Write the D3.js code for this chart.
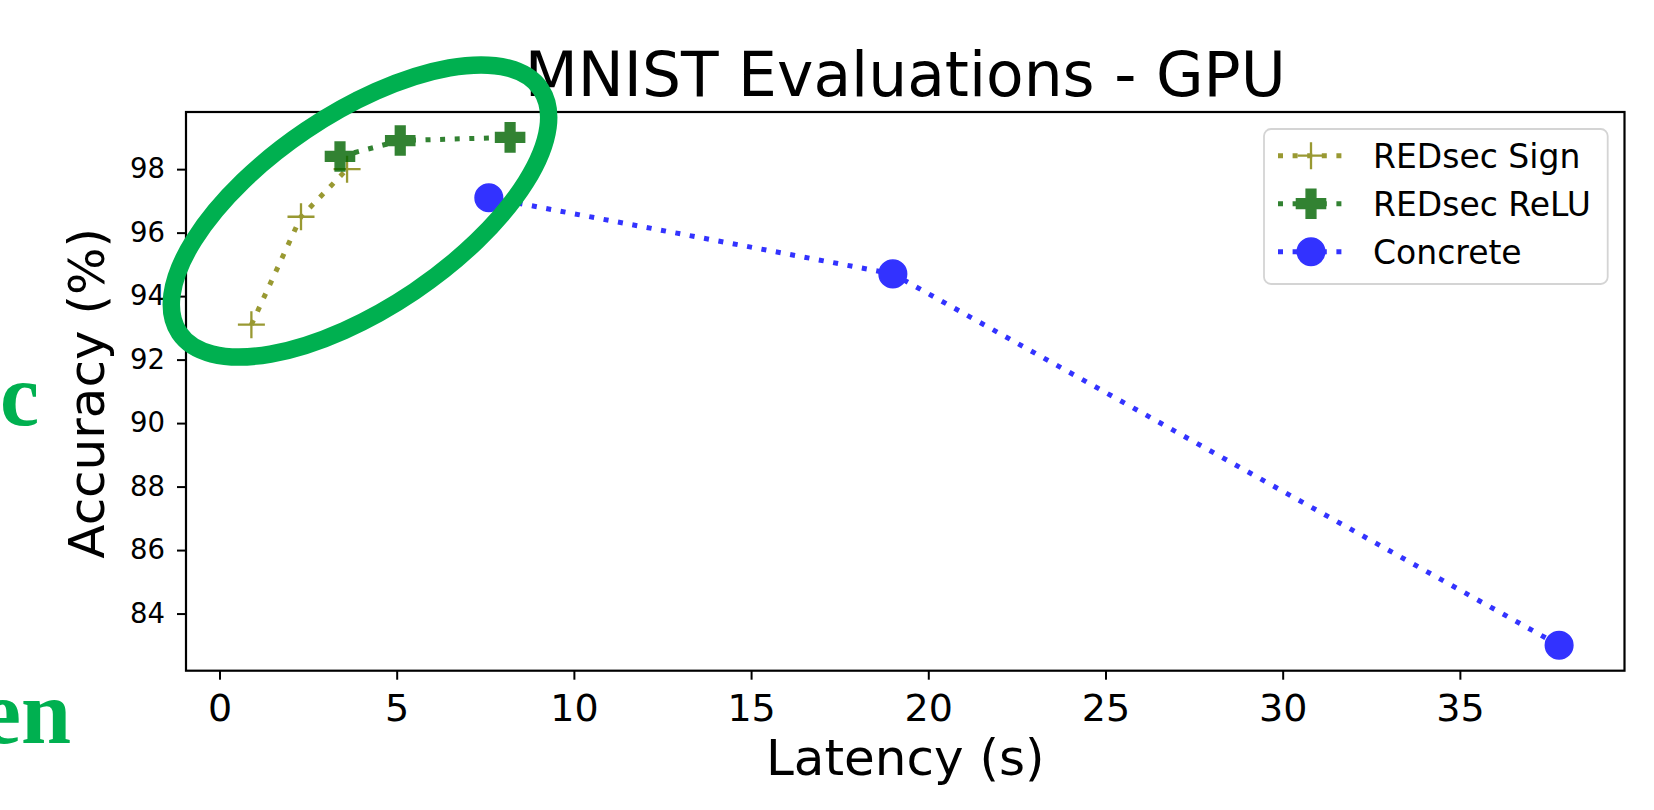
<!DOCTYPE html>
<html>
<head>
<meta charset="utf-8">
<script src="https://cdn.jsdelivr.net/npm/d3@7"></script>
<style>
  body { margin: 0; background: #ffffff; }
  svg { display: block; }
</style>
</head>
<body>
<script>
// Chart data
// =================================
var signLatency = [0.9, 2.3, 3.6];
var signAccuracy = [93.1, 96.5, 98.0];

var reluLatency = [3.4, 5.1, 8.2];
var reluAccuracy = [98.4, 98.9, 99.0];

var concreteLatency = [7.6, 19.0, 37.8];
var concreteAccuracy = [97.1, 94.7, 83.0];

var seriesNames = ["REDsec Sign", "REDsec ReLU", "Concrete"];
var xTicks = [0, 5, 10, 15, 20, 25, 30, 35];
var yTicks = [84, 86, 88, 90, 92, 94, 96, 98];

// Set up chart
// =================================
var svgWidth = 1654;
var svgHeight = 810;

var margin = {
    top: 112,
    right: 29.5,
    bottom: 139.3,
    left: 186
};

var chartWidth = svgWidth - margin.left - margin.right;
var chartHeight = svgHeight - margin.top - margin.bottom;
var font = "DejaVu Sans";

var svg = d3
    .select("body")
    .append("svg")
    .attr("width", svgWidth)
    .attr("height", svgHeight);

svg.append("rect")
    .attr("width", svgWidth)
    .attr("height", svgHeight)
    .attr("fill", "#ffffff");

var chartGroup = svg.append("g")
    .attr("transform", `translate(${margin.left}, ${margin.top})`);

// Scales, matplotlib style 5% padding
// =================================
var allX = signLatency.concat(reluLatency, concreteLatency);
var allY = signAccuracy.concat(reluAccuracy, concreteAccuracy);
var xPad = (d3.max(allX) - d3.min(allX)) * 0.05;
var yPad = (d3.max(allY) - d3.min(allY)) * 0.05;

var xLinearScale = d3.scaleLinear()
    .domain([d3.min(allX) - xPad, d3.max(allX) + xPad])
    .range([0, chartWidth]);

var yLinearScale = d3.scaleLinear()
    .domain([d3.min(allY) - yPad, d3.max(allY) + yPad])
    .range([chartHeight, 0]);

// Axes
// =================================
var bottomAxis = d3.axisBottom(xLinearScale)
    .tickValues(xTicks)
    .tickSize(9)
    .tickPadding(14);

var leftAxis = d3.axisLeft(yLinearScale)
    .tickValues(yTicks)
    .tickSize(9)
    .tickPadding(12);

var xAxis = chartGroup.append("g")
    .attr("transform", `translate(0, ${chartHeight})`)
    .call(bottomAxis);

xAxis.attr("font-family", font).attr("font-size", 38);

var yAxis = chartGroup.append("g")
    .call(leftAxis);

yAxis.attr("font-family", font).attr("font-size", 27.5);

[xAxis, yAxis].forEach(function (ax) {
    ax.select(".domain").remove();
    ax.selectAll(".tick line")
        .attr("stroke", "#000")
        .attr("stroke-width", 2);
    ax.selectAll(".tick text").attr("fill", "#000");
});

// Series styles
// =================================
var series = [
    { name: seriesNames[0], xs: signLatency, ys: signAccuracy, color: "olive", marker: "plus" },
    { name: seriesNames[1], xs: reluLatency, ys: reluAccuracy, color: "darkgreen", marker: "pfill" },
    { name: seriesNames[2], xs: concreteLatency, ys: concreteAccuracy, color: "blue", marker: "circle" }
];

var line = d3.line()
    .x(d => xLinearScale(d[0]))
    .y(d => yLinearScale(d[1]));

function drawMarker(g, s) {
    if (s.marker === "plus") {
        g.append("path")
            .attr("d", "M-13.5,0H13.5M0,-13.5V13.5")
            .attr("stroke", s.color)
            .attr("stroke-width", 2.3)
            .attr("fill", "none");
    } else if (s.marker === "pfill") {
        g.append("path")
            .attr("d", d3.symbol(d3.symbolCross, 470)())
            .attr("fill", s.color)
            .attr("stroke", s.color)
            .attr("stroke-width", 1.5);
    } else {
        g.append("circle")
            .attr("r", 13.8)
            .attr("fill", s.color)
            .attr("stroke", s.color)
            .attr("stroke-width", 1.5);
    }
}

series.forEach(function (s) {
    var pts = d3.zip(s.xs, s.ys);
    var sg = chartGroup.append("g").attr("opacity", 0.8);

    sg.append("path")
        .attr("d", line(pts))
        .attr("fill", "none")
        .attr("stroke", s.color)
        .attr("stroke-width", 5)
        .attr("stroke-dasharray", "5 9.6");

    pts.forEach(function (p) {
        var mg = sg.append("g")
            .attr("transform", `translate(${xLinearScale(p[0])}, ${yLinearScale(p[1])})`);
        drawMarker(mg, s);
    });
});

// Frame
// =================================
chartGroup.append("rect")
    .attr("width", chartWidth)
    .attr("height", chartHeight)
    .attr("fill", "none")
    .attr("stroke", "#000")
    .attr("stroke-width", 2.2);

// Title and axis labels
// =================================
svg.append("text")
    .attr("x", margin.left + chartWidth / 2)
    .attr("y", 96)
    .attr("text-anchor", "middle")
    .attr("font-family", font)
    .attr("font-size", 61.5)
    .text("MNIST Evaluations - GPU");

svg.append("text")
    .attr("x", margin.left + chartWidth / 2)
    .attr("y", 775)
    .attr("text-anchor", "middle")
    .attr("font-family", font)
    .attr("font-size", 50)
    .text("Latency (s)");

svg.append("text")
    .attr("transform", `translate(104, ${margin.top + chartHeight / 2 + 2}) rotate(-90)`)
    .attr("text-anchor", "middle")
    .attr("font-family", font)
    .attr("font-size", 50)
    .text("Accuracy (%)");

// Legend
// =================================
var legend = svg.append("g")
    .attr("transform", "translate(1264, 129)");

legend.append("rect")
    .attr("width", 343.7)
    .attr("height", 155)
    .attr("rx", 7)
    .attr("fill", "#ffffff")
    .attr("fill-opacity", 0.8)
    .attr("stroke", "#d4d4d4")
    .attr("stroke-width", 1.8);

series.forEach(function (s, i) {
    var row = legend.append("g")
        .attr("transform", `translate(0, ${26.7 + i * 48})`);

    var lg = row.append("g").attr("opacity", 0.8);
    lg.append("line")
        .attr("x1", 14)
        .attr("x2", 78)
        .attr("stroke", s.color)
        .attr("stroke-width", 5)
        .attr("stroke-dasharray", "5 9.6");

    var mg = lg.append("g").attr("transform", "translate(47, 0)");
    drawMarker(mg, s);

    row.append("text")
        .attr("x", 109)
        .attr("y", 12)
        .attr("font-family", font)
        .attr("font-size", 33)
        .text(s.name);
});

// Slide overlay: green highlight ellipse and cut-off caption letters
// =================================
svg.append("ellipse")
    .attr("cx", 360)
    .attr("cy", 211)
    .attr("rx", 218)
    .attr("ry", 97)
    .attr("transform", "rotate(-34, 360, 211)")
    .attr("fill", "none")
    .attr("stroke", "#00b050")
    .attr("stroke-width", 17.5);

svg.append("text")
    .attr("x", 39)
    .attr("y", 425)
    .attr("text-anchor", "end")
    .attr("font-family", "Liberation Serif")
    .attr("font-weight", "bold")
    .attr("font-size", 88)
    .attr("fill", "#00b050")
    .text("c");

svg.append("text")
    .attr("x", 71)
    .attr("y", 743)
    .attr("text-anchor", "end")
    .attr("font-family", "Liberation Serif")
    .attr("font-weight", "bold")
    .attr("font-size", 90)
    .attr("fill", "#00b050")
    .text("en");
</script>
</body>
</html>
